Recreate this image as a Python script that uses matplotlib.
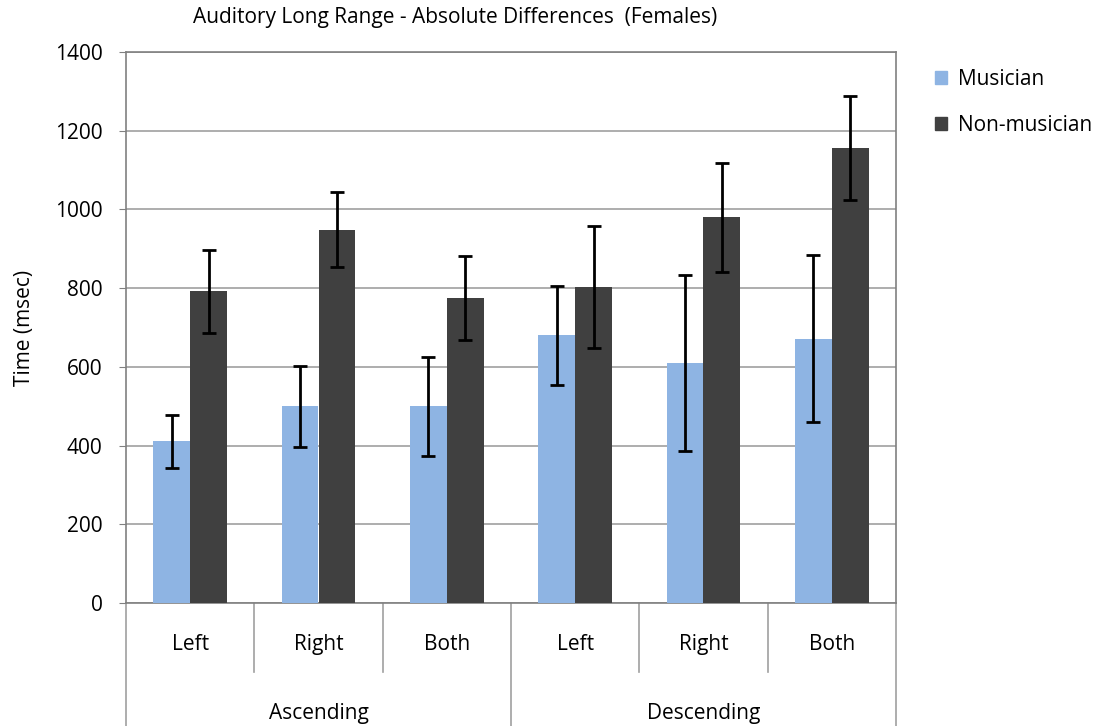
import matplotlib
matplotlib.use("Agg")
import matplotlib.pyplot as plt
from matplotlib.patches import Patch
import numpy as np

groups = ["Ascending", "Descending"]
categories = ["Left", "Right", "Both", "Left", "Right", "Both"]
musician = [411, 500, 500, 680, 610, 672]
musician_err = [67, 103, 126, 125, 224, 211]
non_musician = [792, 949, 774, 802, 980, 1156]
non_musician_err = [105, 96, 107, 155, 139, 132]
yticks = [0, 200, 400, 600, 800, 1000, 1200, 1400]

plt.rcParams['font.family'] = ['Open Sans', 'DejaVu Sans']

W, H = 1105, 726
fig = plt.figure(figsize=(W / 100, H / 100), dpi=100)
fig.patch.set_facecolor('white')
L, R, T, B = 126, 896, 52, 603
ax = fig.add_axes([L / W, (H - B) / H, (R - L) / W, (B - T) / H])

FS = 15
n = len(categories)
x = np.arange(n) + 0.5
bw = 0.288
ax.bar(x - bw / 2, musician, bw, color='#8EB4E3', zorder=3, label='Musician')
ax.bar(x + bw / 2, non_musician, bw, color='#404040', zorder=3, label='Non-musician')
ax.errorbar(x - bw / 2, musician, yerr=musician_err, fmt='none', ecolor='black',
            elinewidth=2, capsize=5, capthick=2, zorder=4)
ax.errorbar(x + bw / 2, non_musician, yerr=non_musician_err, fmt='none', ecolor='black',
            elinewidth=2, capsize=5, capthick=2, zorder=4)

ax.set_xlim(0, n)
ax.set_ylim(0, 1400)
ax.set_yticks(yticks)
ax.set_yticklabels([str(v) for v in yticks], fontsize=FS)
ax.yaxis.grid(True, color='#A0A0A0', linewidth=1.2, zorder=0)
ax.set_xticks([])
ax.tick_params(axis='y', length=5, color='#808080', pad=12)
for s in ax.spines.values():
    s.set_color('#808080')
    s.set_linewidth(1.2)

ax.set_ylabel('Time (msec)', fontsize=FS, labelpad=14)

# category axis
trans = ax.get_xaxis_transform()
ph = B - T
inner_d = -(672 - B) / ph
outer_d = -(H - B) / ph - 0.01
for b in [1, 2, 4, 5]:
    ax.plot([b, b], [0, inner_d], transform=trans, clip_on=False, color='#A0A0A0', lw=1.2)
for b in [0, 3, 6]:
    ax.plot([b, b], [0, outer_d], transform=trans, clip_on=False, color='#A0A0A0', lw=1.2)
for xi, c in zip(x, categories):
    ax.text(xi, -(650 - B) / ph, c, transform=trans, ha='center', va='baseline', fontsize=FS)
for gi, g in enumerate(groups):
    ax.text(gi * 3 + 1.5, -(719 - B) / ph, g, transform=trans, ha='center', va='baseline', fontsize=FS)

fig.text(455 / W, 1 - 18 / H, 'Auditory Long Range - Absolute Differences  (Females)',
         ha='center', va='center', fontsize=15)

handles = [Patch(color='#8EB4E3', label='Musician'), Patch(color='#404040', label='Non-musician')]
fig.legend(handles=handles, loc='upper left', bbox_to_anchor=(916 / W, 1 - 50 / H),
           frameon=False, fontsize=FS, handlelength=0.6, handleheight=0.6,
           handletextpad=0.5, labelspacing=1.2)

fig.savefig('out.png', dpi=100, facecolor='white')
